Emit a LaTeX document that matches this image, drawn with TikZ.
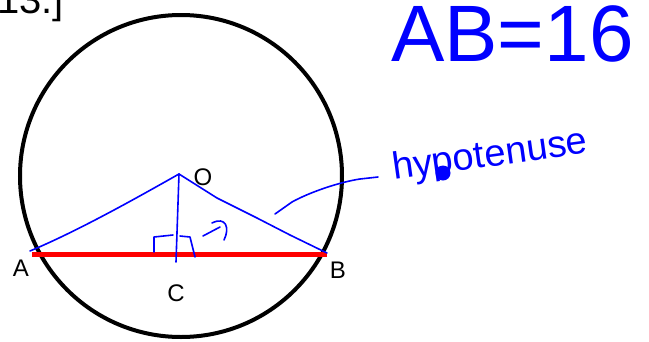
\documentclass[tikz,border=0pt]{standalone}
\usepackage{fontspec}
\setmainfont{Liberation Sans}
\begin{document}
\begin{tikzpicture}[x=1pt,y=-1pt,
  circ/.style={draw=black,line width=4pt},
  chord/.style={draw=red,line width=5pt},
  ink/.style={draw=blue,line width=1.6pt,line cap=round,line join=round},
  lbl/.style={font=\fontsize{24}{24}\selectfont,inner sep=0pt}]
\useasboundingbox (0,0) rectangle (649,341);
\clip (0,0) rectangle (649,341);
% header text (cut off)
\node[anchor=base east,inner sep=0pt,font=\fontsize{40}{40}\selectfont] (hdr) at (64,13) {13.]};
\node[anchor=base west,inner sep=0pt,text=blue,font=\fontsize{80}{80}\selectfont] (ab) at (391,61) {AB=16};
% circle
\coordinate (Oc) at (181,176);
\draw[circ] (Oc) circle[radius=161];
% points
\coordinate (A) at (32,254);
\coordinate (B) at (327,254);
\coordinate (O) at (179,174);
\coordinate (Cf) at (176,262);
\draw[chord] (A) -- (B);
% blue ink
\coordinate (Ai) at (30,251);
\coordinate (Bi) at (327,253);
\draw[ink] (Ai) .. controls (80,230) and (140,196) .. (O);
\draw[ink] (O) -- (217,198) -- (257,218) -- (290,235) -- (Bi);
\draw[ink] (O) -- (Cf);
\draw[ink] (154,252) -- (154,237) -- (173,235);
\draw[ink] (180,236) -- (190,237) -- (195,257);
\draw[ink] (203,236) -- (220,227);
\draw[ink] (212,223) .. controls (226,216) and (230,228) .. (224,240);
\coordinate (ptr) at (378,177);
\draw[ink] (275,214) -- (292,202) .. controls (310,192) and (340,182) .. (360,179) -- (ptr);
% labels
\node[lbl] (lA) at (21,268) {A};
\node[lbl] (lB) at (338,270) {B};
\node[lbl] (lC) at (176,293) {C};
\node[lbl] (lO) at (203,177) {O};
% handwriting
\node[text=blue,inner sep=0pt,rotate=8,anchor=base west,font=\fontsize{38}{38}\selectfont] (hyp) at (394,180) {hypotenuse};
\fill[blue] (443,173) circle[radius=7.5];
\end{tikzpicture}
\end{document}
